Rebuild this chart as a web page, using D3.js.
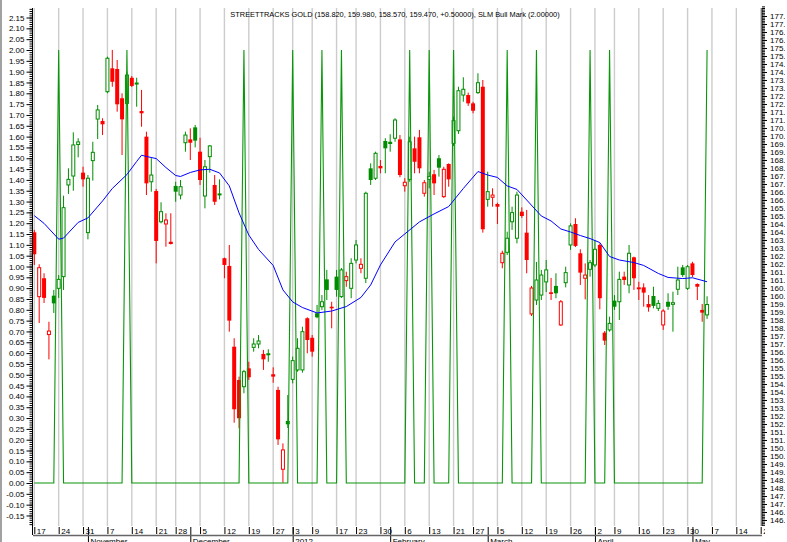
<!DOCTYPE html>
<html>
<head>
<meta charset="utf-8">
<script src="https://cdn.jsdelivr.net/npm/d3@7"></script>
<style>
body { margin: 0; background: #fff; }
text { font-family: "Liberation Sans", Arial, sans-serif; }
</style>
</head>
<body>
<script>
// GLD daily bars, trading day index 0 = 17 Oct 2011
const opens = [
163.98,159.96,161.11,157.59,160.02,160.48,161.21,166.94,167.50,169.47,
167.71,163.96,168.46,171.06,170.94,172.77,174.23,174.19,172.36,172.04,
173.64,173.25,171.56,169.96,167.14,166.56,164.64,164.50,163.39,166.88,
166.31,169.58,169.79,170.54,169.02,166.25,168.71,166.94,166.33,162.36,
161.88,156.83,154.75,154.33,155.48,156.79,157.00,156.38,156.34,155.11,
154.13,149.17,152.19,154.79,155.38,155.38,158.61,157.39,158.92,159.33,
161.04,159.33,161.21,159.96,160.96,160.48,162.25,161.73,161.11,167.98,
167.36,168.13,169.69,169.64,169.86,169.79,166.89,167.29,169.23,169.92,
166.42,167.29,167.61,168.61,166.21,168.25,169.54,170.33,172.56,172.56,
172.04,172.71,173.08,166.04,166.17,165.75,162.08,162.73,164.64,163.61,
165.27,163.96,158.88,159.75,160.06,160.88,160.23,160.63,158.19,160.83,
163.19,164.50,162.67,161.11,161.67,161.94,163.19,157.71,157.88,159.71,
159.64,161.21,160.69,162.42,160.54,160.54,159.50,160.00,159.23,158.19,
159.64,159.48,160.42,161.79,160.48,162.04,160.75,159.13,158.82];
const highs = [
164.13,161.98,161.42,158.39,160.38,161.31,166.27,167.98,170.23,169.86,
168.08,167.56,169.64,171.94,171.11,174.96,175.38,174.75,172.67,174.02,
173.75,173.64,172.88,170.27,168.61,166.69,165.86,165.17,165.17,167.14,
167.25,170.27,170.48,170.69,169.89,168.50,169.44,167.56,167.29,162.40,
163.19,157.36,154.96,155.38,155.89,157.36,157.56,156.63,156.67,155.54,
154.33,150.79,153.81,156.21,157.36,158.08,158.67,157.56,159.44,160.06,
161.63,159.64,161.63,161.75,161.52,162.36,163.50,162.36,166.52,168.29,
169.02,168.50,169.86,170.11,171.11,170.06,167.36,169.96,169.96,170.38,
167.25,167.77,167.88,168.81,168.08,168.29,171.21,173.08,173.67,172.71,
172.14,173.92,173.50,167.77,166.73,165.83,162.83,164.02,165.58,166.52,
165.54,165.38,160.63,162.13,161.63,162.25,161.13,161.42,159.75,161.83,
164.54,164.86,162.92,162.04,162.25,163.50,163.29,157.81,158.71,160.06,
161.52,161.52,163.19,162.46,160.89,160.79,160.06,160.58,159.75,159.17,
160.17,160.27,161.83,161.94,161.94,162.14,160.79,159.50,159.98];
const lows = [
161.94,158.31,159.56,156.04,158.94,159.88,160.38,166.38,166.58,168.67,
166.83,163.54,167.21,169.81,170.06,172.67,173.08,171.52,168.81,171.94,
173.06,171.83,170.58,166.31,166.52,162.04,164.54,163.08,163.22,165.89,
166.04,169.02,168.50,169.29,166.94,165.48,167.71,165.69,166.04,161.11,
157.77,152.08,151.73,153.92,154.75,156.52,156.73,155.38,155.89,154.58,
150.69,148.33,151.75,154.54,155.27,155.21,156.42,156.21,158.61,159.13,
159.75,157.98,159.96,159.88,160.58,159.86,162.04,161.42,160.81,166.94,
167.25,167.67,167.67,169.02,169.64,167.42,166.52,167.14,167.67,167.67,
166.21,166.73,166.31,167.46,166.13,166.83,169.38,170.13,172.14,171.88,
171.42,172.63,163.96,165.58,165.58,164.50,161.73,162.56,164.13,163.29,
164.88,161.42,158.75,159.44,159.75,160.25,159.75,159.86,158.13,160.54,
162.88,163.06,160.69,159.79,161.21,161.81,159.17,156.94,157.77,159.13,
158.50,160.69,160.17,160.38,159.75,159.33,159.02,159.23,159.06,157.88,
159.13,157.77,160.06,161.19,160.38,161.19,159.75,158.39,158.57];
const closes = [
162.61,161.77,159.88,157.81,159.54,161.04,165.52,167.29,169.44,169.63,
167.29,167.36,168.98,171.63,170.73,174.86,173.39,171.98,171.04,173.81,
173.13,173.31,171.42,167.04,167.56,163.44,165.27,164.75,163.25,166.52,
166.83,170.06,169.58,169.71,167.25,168.08,169.38,165.89,166.38,161.94,
158.46,152.92,152.36,155.27,154.92,157.00,157.19,156.04,156.39,154.96,
151.04,150.38,151.98,155.96,156.73,157.77,157.25,156.52,158.67,159.64,
160.38,159.23,160.38,161.63,161.21,162.04,163.19,161.98,166.42,167.25,
168.92,167.98,169.23,169.50,171.00,167.56,167.11,169.64,168.39,167.98,
167.08,167.46,167.04,168.02,167.92,167.29,170.96,172.83,172.92,172.04,
171.58,173.33,164.17,166.52,166.31,165.58,162.67,163.61,165.21,166.31,
165.00,162.25,160.50,161.00,161.31,161.63,160.13,160.17,159.64,161.46,
164.38,163.13,161.46,161.31,162.08,162.92,159.86,157.21,158.29,159.33,
161.04,161.00,162.67,161.11,160.42,160.21,159.29,159.38,159.54,159.06,
159.33,159.58,161.00,161.31,161.83,161.31,160.58,158.96,159.47];

// SLM Bull Mark, one value per bar
const slmBull = [
0,0,0,0,0,2,0,0,0,0, 0,0,0,0,0,0,0,0,0,2, 0,0,0,0,0,0,0,0,0,0,
0,0,0,0,0,0,0,0,0,0, 0,0,0,2,0,0,0,0,0,0, 0,0,0,2,0,0,0,0,0,2,
0,0,0,2,0,0,0,0,0,0, 0,0,0,0,0,0,0,2,0,0, 0,2,0,0,0,0,2,0,0,0,
0,0,0,0,0,0,0,2,0,0, 0,0,0,2,0,0,0,0,0,0, 0,0,0,0,2,0,0,0,2,0,
0,0,0,0,0,0,0,0,0,0, 0,0,0,0,0,0,0,0,2];

// moving average
const maDays = [0,2,5,6,9,11,14,16,19,21,22,23,25,27,29,30,32,34,36,38,40,42,44,46,49,51,53,55,58,61,
  64,67,69,71,74,76,79,82,85,88,91,93,95,97,99,101,104,106,108,110,112,114,116,118,120,123,125,128,130,133,135,138];
const maValues = [165.02,164.54,163.55,163.62,164.60,164.88,165.94,166.72,167.59,168.41,168.80,168.72,168.59,168.03,167.53,
  167.47,167.72,167.88,167.92,167.69,166.88,165.19,163.81,162.91,161.91,160.38,159.63,159.28,158.94,159.06,
  159.34,159.91,160.69,161.94,163.38,163.88,164.63,165.13,165.59,166.72,167.78,167.56,167.41,166.88,166.66,
  166.00,165.00,164.69,164.19,164.00,163.78,163.59,163.34,162.47,162.25,162.09,161.91,161.41,161.16,161.09,161.14,160.89];

const weekIdx = [0,5,10,15,20,25,29,34,39,44,49,53,57,62,66,71,76,81,86,90,95,100,105,110,115,119,124,129,134,139,144,149];
const weekLabels = ["17","24","31","7","14","21","28","5","12","19","27","3","9","17","23","30","6","13","21","27","5","12","19","26","2","9","16","23","30","7","14","21"];
const monthIdx = [11,32,53,73,93,115,135];
const monthLabels = ["November","December","2012","February","March","April","May"];

const title = "STREETTRACKS GOLD (158.820, 159.980, 158.570, 159.470, +0.50000), SLM Bull Mark (2.00000)";

const W = 787, H = 542;
const plotTop = 8, plotBottom = 526;
const svg = d3.select("body").append("svg").attr("width", W).attr("height", H);
svg.append("rect").attr("width", W).attr("height", H).attr("fill", "#fff");
const defs = svg.append("defs");
defs.append("clipPath").attr("id", "rclip").append("rect")
  .attr("x", -10).attr("y", 0).attr("width", 33).attr("height", H);
defs.append("clipPath").attr("id", "bclip").append("rect")
  .attr("x", 0).attr("y", -5).attr("width", 765).attr("height", 40);

const x = d3.scaleLinear().domain([0, 149]).range([34.3, 760.7]);
const yL = d3.scaleLinear().domain([0, 2]).range([483, 50]);
const yR = d3.scaleLinear().domain([146, 177.5]).range([520, 16]);

const green = "#008c00", red = "#ff0000";

// grid
svg.append("g").selectAll("line").data(weekIdx).join("line")
  .attr("x1", d => x(d)).attr("x2", d => x(d))
  .attr("y1", plotTop).attr("y2", plotBottom)
  .attr("stroke", "#cccccc").attr("stroke-width", 1.4);

// candles
const bars = svg.append("g");
closes.forEach((c, i) => {
  const o = opens[i];
  const prev = i > 0 ? closes[i - 1] : o;
  const col = c >= prev ? green : red;
  const cx = x(i);
  bars.append("line")
    .attr("x1", cx).attr("x2", cx)
    .attr("y1", yR(highs[i])).attr("y2", yR(lows[i]))
    .attr("stroke", col).attr("stroke-width", 1);
  const y0 = yR(Math.max(o, c)), y1 = yR(Math.min(o, c));
  if (c > o) {
    bars.append("rect")
      .attr("x", cx - 1.5).attr("width", 3)
      .attr("y", y0).attr("height", Math.max(1, y1 - y0))
      .attr("fill", "#fff").attr("stroke", col).attr("stroke-width", 1);
  } else {
    bars.append("rect")
      .attr("x", cx - 2).attr("width", 4)
      .attr("y", y0).attr("height", Math.max(1, y1 - y0))
      .attr("fill", col);
  }
});

// SLM Bull Mark
svg.append("path").datum(slmBull)
  .attr("fill", "none").attr("stroke", "#0a960a").attr("stroke-width", 1.1)
  .attr("d", d3.line().x((d, i) => x(i)).y(d => yL(d)));

// moving average
svg.append("path").datum(maDays)
  .attr("fill", "none").attr("stroke", "#0000ff").attr("stroke-width", 1)
  .attr("d", d3.line().x(d => x(d)).y((d, k) => yR(maValues[k])));

// left axis
const leftTicks = d3.range(-15, 216, 5).map(v => v / 100);
const leftMinor = d3.range(-19, 220).map(v => v / 100);
const gl = svg.append("g").attr("transform", "translate(32.5,0)");
gl.call(d3.axisLeft(yL).tickValues(leftMinor).tickSize(3).tickFormat(""));
gl.append("g").call(d3.axisLeft(yL).tickValues(leftTicks).tickSize(6).tickPadding(2).tickFormat(d => d.toFixed(2)));
gl.selectAll(".domain").remove();
gl.append("line").attr("y1", plotTop).attr("y2", 535).attr("stroke", "#000");

// right axis (labels run off the right edge, as in the source)
const rightTicks = d3.range(146, 178, 0.5);
const rightMinor = d3.range(1457, 1782).map(v => v / 10);
const gr = svg.append("g").attr("transform", "translate(762,0)").attr("clip-path", "url(#rclip)");
gr.call(d3.axisRight(yR).tickValues(rightMinor).tickSize(3).tickFormat(""));
gr.append("g").call(d3.axisRight(yR).tickValues(rightTicks).tickSize(5).tickPadding(3).tickFormat(d => d.toFixed(2)));
gr.selectAll(".domain").remove();
gr.append("line").attr("y1", plotTop).attr("y2", plotBottom).attr("stroke", "#000");

svg.selectAll(".tick text").attr("font-size", 8).attr("fill", "#000")
  .attr("font-family", "Liberation Sans, Arial, sans-serif");
svg.selectAll(".tick line").attr("stroke", "#000");

// bottom axis
const gb = svg.append("g").attr("transform", "translate(0,527)").attr("clip-path", "url(#bclip)");
gb.call(d3.axisBottom(x).tickValues(weekIdx).tickSize(7).tickFormat((d, k) => weekLabels[k]));
const gm = svg.append("g").attr("transform", "translate(0,527)");
gm.call(d3.axisBottom(x).tickValues(monthIdx).tickSize(16).tickFormat((d, k) => monthLabels[k]));
[gb, gm].forEach(g => {
  g.selectAll(".domain").remove();
  g.selectAll(".tick line").attr("stroke", "#000");
  g.selectAll(".tick text").attr("font-size", 8).attr("fill", "#000")
    .attr("font-family", "Liberation Sans, Arial, sans-serif")
    .attr("text-anchor", "start").attr("x", 2).attr("dy", 0);
});
gb.selectAll(".tick text").attr("y", 7);
gm.selectAll(".tick text").attr("y", 17);
svg.append("line").attr("x1", 33).attr("x2", 762).attr("y1", 535.5).attr("y2", 535.5)
  .attr("stroke", "#666").attr("stroke-width", 1.5);

// frame edge
svg.append("line").attr("x1", 1).attr("x2", 1).attr("y1", 0).attr("y2", H).attr("stroke", "#444");

svg.append("text").attr("x", 395).attr("y", 17).attr("text-anchor", "middle")
  .attr("font-size", 7.4).attr("fill", "#000").text(title);
</script>
</body>
</html>
